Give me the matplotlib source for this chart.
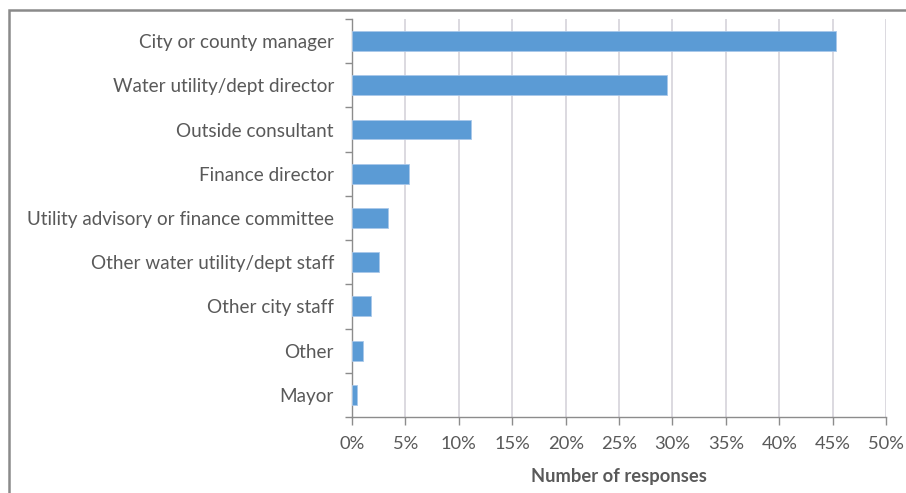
import numpy as np
import matplotlib
matplotlib.use('Agg')
import matplotlib.pyplot as plt
from matplotlib.patches import Rectangle
from matplotlib.ticker import FixedLocator, PercentFormatter

plt.rcParams['font.family'] = ['Lato', 'DejaVu Sans']

# who sets the rates -- share of responses
roles = ['City or county manager', 'Water utility/dept director',
         'Outside consultant', 'Finance director',
         'Utility advisory or finance committee',
         'Other water utility/dept staff', 'Other city staff',
         'Other', 'Mayor']
shares = [45.3, 29.5, 11.1, 5.3, 3.4, 2.5, 1.8, 1.0, 0.5]
xticks = np.arange(0, 55, 5)

txt = '#595959'
axis_col = '#8c8c8c'
grid_col = '#d6d3da'
bar_col = '#5b9bd5'

fig = plt.figure(figsize=(9.06, 4.93), dpi=100)
ax = fig.add_axes([0.3885, 0.1542, 0.5895, 0.8073])

y = np.arange(len(roles))
ax.barh(y, shares, height=0.45, color=bar_col, edgecolor='#a9c8ea',
        linewidth=0.6, zorder=3)

ax.set_xlim(0, 50)
ax.set_ylim(len(roles) - 0.5, -0.5)
ax.set_xticks(xticks)
ax.xaxis.set_major_formatter(PercentFormatter(decimals=0))
ax.set_yticks(y)
ax.set_yticklabels(roles)
# tick marks sit between categories
ax.yaxis.set_minor_locator(FixedLocator(np.arange(-0.5, len(roles), 1)))

ax.grid(axis='x', color=grid_col, linewidth=1.2, zorder=0)
ax.tick_params(axis='y', which='major', length=0, pad=13, labelsize=13.6,
               labelcolor=txt)
ax.tick_params(axis='y', which='minor', length=5, width=1, color=axis_col)
ax.tick_params(axis='x', length=6, width=1, color=axis_col, pad=8,
               labelsize=13.2, labelcolor=txt)

for side in ['top', 'right']:
    ax.spines[side].set_visible(False)
for side in ['left', 'bottom']:
    ax.spines[side].set_color(axis_col)
    ax.spines[side].set_linewidth(1)

ax.set_xlabel('Number of responses', fontsize=13.2, fontweight='bold',
              color=txt, labelpad=11)

# chart frame
fig.patches.append(Rectangle((9 / 906, -0.1), 1.2, 1 - 10 / 493 + 0.1,
                             transform=fig.transFigure, fill=False,
                             edgecolor='#8a8a8a', linewidth=1.8))

fig.savefig('out.png', dpi=100)
